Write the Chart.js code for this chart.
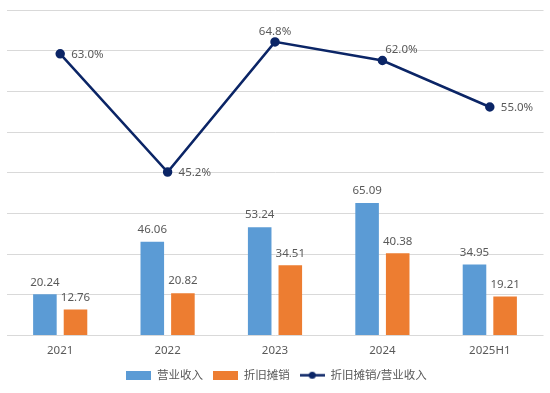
<!DOCTYPE html>
<html>
<head>
<meta charset="utf-8">
<script src="https://cdn.jsdelivr.net/npm/chart.js@4"></script>
<style>
  html, body { margin: 0; padding: 0; background: #fff; }
  #wrap { width: 550px; height: 393px; }
</style>
</head>
<body>
<div id="wrap"><canvas id="chart"></canvas></div>
<script>
// ===== Data =====
const categories = ['2021', '2022', '2023', '2024', '2025H1'];
const revenue = [20.24, 46.06, 53.24, 65.09, 34.95];       // 营业收入
const depreciation = [12.76, 20.82, 34.51, 40.38, 19.21];  // 折旧摊销
const ratio = [63.0, 45.2, 64.8, 62.0, 55.0];              // 折旧摊销/营业收入 (%)
const ratioLabelPos = ['right', 'right', 'top', 'topright', 'right'];

const FONT = "'Noto Sans', 'Noto Sans CJK SC', sans-serif";
const TEXT = '#595959';
const BLUE = '#5B9BD5';
const ORANGE = '#ED7D31';
const NAVY = '#0B2566';

// ===== legend icons =====
function makeIcon(kind, color) {
  const c = document.createElement('canvas');
  c.width = 25; c.height = 9;
  const g = c.getContext('2d');
  if (kind === 'box') {
    g.fillStyle = color;
    g.fillRect(0, 0, 25, 9);
  } else {
    g.strokeStyle = color;
    g.lineWidth = 2.5;
    g.beginPath(); g.moveTo(0, 4.5); g.lineTo(25, 4.5); g.stroke();
    g.fillStyle = color;
    g.beginPath(); g.arc(12.5, 4.5, 3.5, 0, Math.PI * 2); g.fill();
  }
  return c;
}
const icons = [makeIcon('box', BLUE), makeIcon('box', ORANGE), makeIcon('line', NAVY)];

// ===== value labels =====
const valueLabels = {
  id: 'valueLabels',
  afterDatasetsDraw(chart) {
    const ctx = chart.ctx;
    ctx.save();
    ctx.font = '11.5px ' + FONT;
    ctx.fillStyle = TEXT;
    [0, 1].forEach(di => {
      chart.getDatasetMeta(di).data.forEach((bar, i) => {
        ctx.textAlign = 'center';
        ctx.textBaseline = 'middle';
        ctx.fillText(chart.data.datasets[di].data[i].toFixed(2), bar.x, bar.y - 12);
      });
    });
    chart.getDatasetMeta(2).data.forEach((pt, i) => {
      const txt = ratio[i].toFixed(1) + '%';
      const pos = ratioLabelPos[i];
      ctx.textBaseline = 'middle';
      if (pos === 'right') {
        ctx.textAlign = 'left';
        ctx.fillText(txt, pt.x + 11, pt.y + 1);
      } else if (pos === 'top') {
        ctx.textAlign = 'center';
        ctx.fillText(txt, pt.x, pt.y - 10);
      } else {
        ctx.textAlign = 'center';
        ctx.fillText(txt, pt.x + 19, pt.y - 11);
      }
    });
    ctx.restore();
  }
};

// ===== Chart =====
const ctx = document.getElementById('chart').getContext('2d');
new Chart(ctx, {
  data: {
    labels: categories,
    datasets: [
      {
        type: 'bar',
        label: '营业收入',
        data: revenue,
        backgroundColor: BLUE,
        yAxisID: 'y',
        order: 2,
        categoryPercentage: 0.57,
        barPercentage: 0.77
      },
      {
        type: 'bar',
        label: '折旧摊销',
        data: depreciation,
        backgroundColor: ORANGE,
        yAxisID: 'y',
        order: 2,
        categoryPercentage: 0.57,
        barPercentage: 0.77
      },
      {
        type: 'line',
        label: '折旧摊销/营业收入',
        data: ratio,
        borderColor: NAVY,
        backgroundColor: NAVY,
        borderWidth: 2.5,
        pointRadius: 3.5,
        pointBackgroundColor: NAVY,
        tension: 0,
        yAxisID: 'y1',
        order: 1
      }
    ]
  },
  options: {
    responsive: true,
    maintainAspectRatio: false,
    animation: false,
    layout: { padding: { left: 4, right: 1, top: 10, bottom: 2 } },
    plugins: {
      tooltip: { enabled: false },
      legend: {
        position: 'bottom',
        labels: {
          usePointStyle: true,
          pointStyleWidth: 25,
          boxHeight: 9,
          padding: 10,
          color: TEXT,
          font: { family: FONT, size: 11.5 },
          generateLabels: (chart) => chart.data.datasets.map((ds, i) => ({
            text: ds.label,
            pointStyle: icons[i],
            fillStyle: ds.backgroundColor,
            strokeStyle: ds.backgroundColor,
            lineWidth: 0,
            fontColor: TEXT,
            datasetIndex: i,
            hidden: false
          }))
        }
      }
    },
    scales: {
      x: {
        grid: { display: false, drawTicks: false },
        border: { display: false },
        ticks: { color: TEXT, font: { family: FONT, size: 11.5 }, padding: 8 },
        afterFit: (scale) => { scale.height = 24; }
      },
      y: {
        min: 0,
        max: 160,
        ticks: { display: false, stepSize: 20 },
        grid: { color: '#D9D9D9', lineWidth: 1, drawTicks: false },
        border: { display: false }
      },
      y1: {
        position: 'right',
        min: 20.6,
        max: 69.6,
        display: false
      }
    }
  },
  plugins: [valueLabels]
});
</script>
</body>
</html>
